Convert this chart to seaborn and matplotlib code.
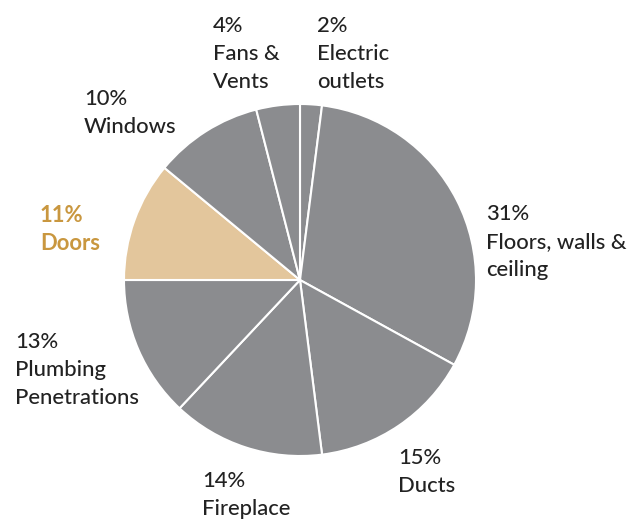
import matplotlib
matplotlib.use("Agg")
import matplotlib.pyplot as plt
import seaborn as sns

# Air leakage sources in a typical home (share of total)
categories = ["Electric\noutlets", "Floors, walls &\nceiling", "Ducts", "Fireplace",
              "Plumbing\nPenetrations", "Doors", "Windows", "Fans &\nVents"]
shares = [2, 31, 15, 14, 13, 11, 10, 4]
highlight = "Doors"

sns.set_theme(style="white")
plt.rcParams["font.family"] = ["Lato", "DejaVu Sans"]

W, H, DPI = 631, 519, 100
fig = plt.figure(figsize=(W / DPI, H / DPI), dpi=DPI)
fig.patch.set_facecolor("white")

# pie placed by pixel centre and radius
cx, cy, r = 300, 280, 176
ax = fig.add_axes([(cx - r) / W, (H - cy - r) / H, 2 * r / W, 2 * r / H])

gray = "#8b8c8f"
tan = "#e3c69c"
colors = [tan if c == highlight else gray for c in categories]
ax.pie(shares, colors=colors, startangle=90, counterclock=False, radius=1,
       wedgeprops=dict(edgecolor="white", linewidth=1.5))
ax.set_xlim(-1.0, 1.0)
ax.set_ylim(-1.0, 1.0)
ax.axis("off")

# label anchors: left x and first-line baseline, in pixels
anchors = {
    "Electric\noutlets": (317, 32),
    "Floors, walls &\nceiling": (486, 220),
    "Ducts": (398, 464),
    "Fireplace": (202, 487),
    "Plumbing\nPenetrations": (15, 348),
    "Doors": (40, 222),
    "Windows": (84, 105),
    "Fans &\nVents": (213, 32),
}
step = 28
for cat, val in zip(categories, shares):
    x, y0 = anchors[cat]
    col = "#c9973f" if cat == highlight else "#222222"
    lines = [f"{val}%"] + cat.split("\n")
    for i, line in enumerate(lines):
        fig.text(x / W, 1 - (y0 + i * step) / H, line, ha="left", va="baseline",
                 fontsize=15.8, color=col,
                 fontweight="bold" if cat == highlight else "medium")

fig.savefig("out.png", dpi=DPI, facecolor="white")
